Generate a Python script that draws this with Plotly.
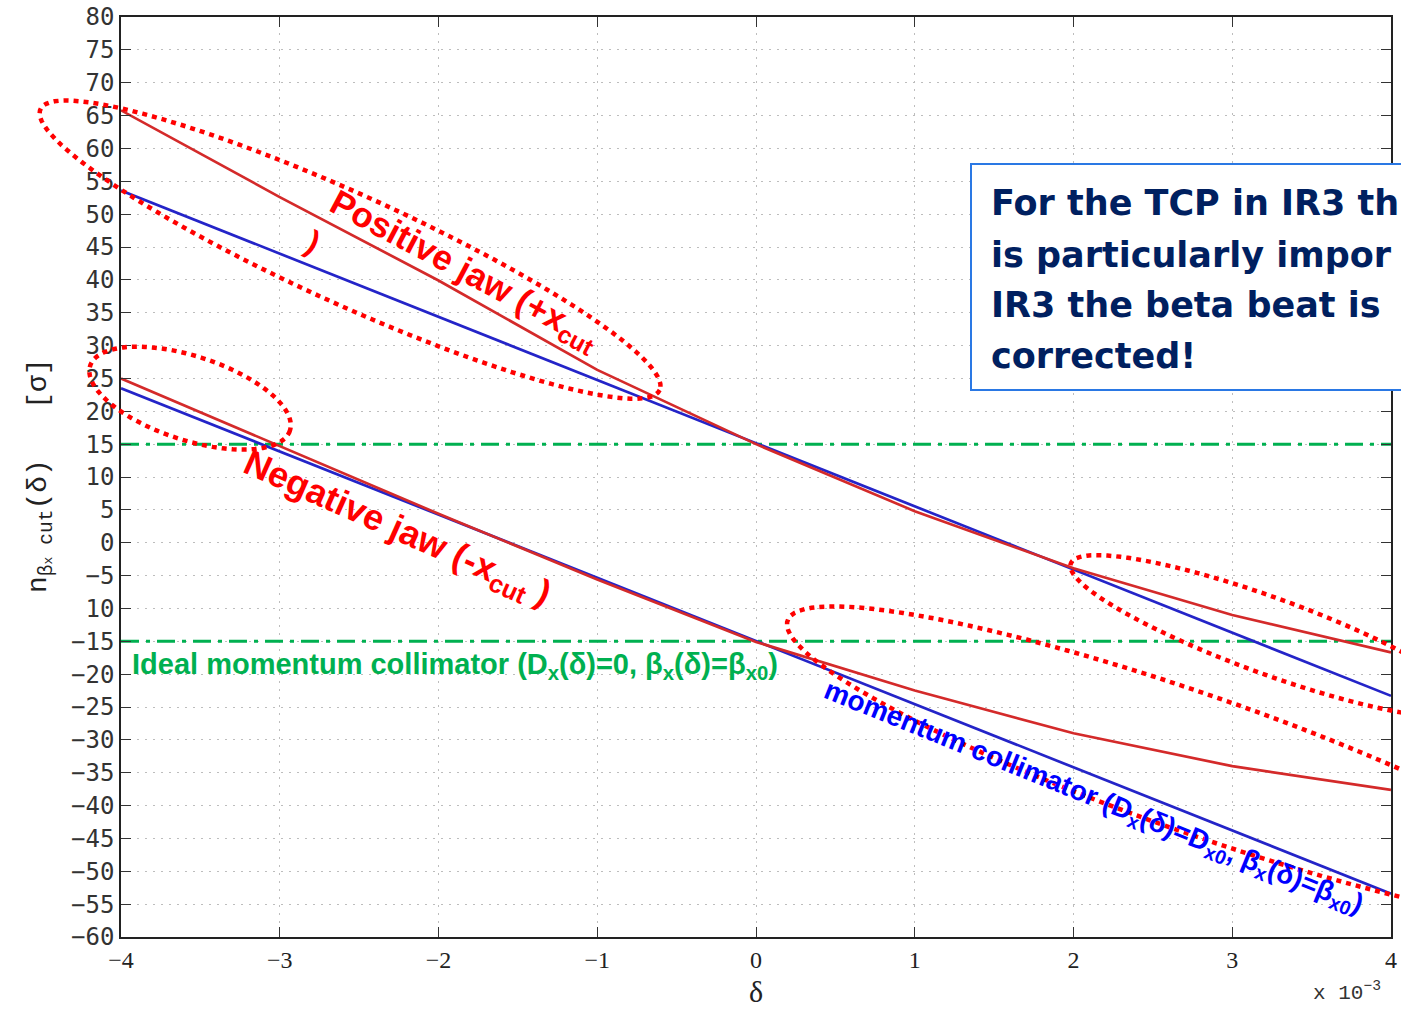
import numpy as np
import plotly.graph_objects as go

# ---------------- data ----------------
delta = [-4, -3, -2, -1, 0, 1, 2, 3, 4]                      # x 10^-3
pos_jaw_red = [65.8, 52.6, 39.9, 26.3, 15.0, 4.8, -3.9, -11.0, -16.7]
neg_jaw_red = [25.0, 14.7, 4.4, -5.6, -15.1, -22.5, -29.0, -34.0, -37.6]
pos_jaw_blue = [53.6, 44.0, 34.4, 24.8, 15.2, 5.6, -4.0, -13.7, -23.3]
neg_jaw_blue = [23.5, 13.9, 4.3, -5.3, -14.9, -24.5, -34.1, -43.8, -53.4]
ideal_levels = [15, -15]

x_ticks = [-4, -3, -2, -1, 0, 1, 2, 3, 4]
x_ticktext = ["\u22124", "\u22123", "\u22122", "\u22121", "0", "1", "2", "3", "4"]
y_ticks = list(range(80, -61, -5))
y_ticktext = ["80", "75", "70", "65", "60", "55", "50", "45", "40", "35", "30", "25",
              "20", "15", "10", "5", "0", "\u22125", "10", "\u221215", "\u221220",
              "\u221225", "\u221230", "\u221235", "\u221240", "\u221245", "\u221250",
              "\u221255", "\u221260"]

# highlight ellipses: centre (data), semi-axes (px), tilt (deg, screen)
ell_cx = [-2.557, -3.565, 3.238, 2.797]
ell_cy = [44.6, 22.0, -14.2, -33.8]
ell_a = [340, 105, 212, 437]
ell_b = [55, 42, 38, 69]
ell_ang = [24.4, 18.0, 20.0, 19.3]

# ---------------- layout geometry ----------------
W, H = 1401, 1009
ML, MR, MT, MB = 121, 10, 17, 72
PW, PH = W - ML - MR, H - MT - MB
XR = [-4, 4]
YR = [-60, 80]

RED = "#d42a2a"
BLUE = "#2424c8"
GREEN = "#00b050"

fig = go.Figure()

for yv in ideal_levels:
    fig.add_trace(go.Scatter(x=[XR[0], XR[1]], y=[yv, yv], mode="lines",
                             line=dict(color=GREEN, width=3, dash="18px,7px,4px,7px"),
                             showlegend=False, hoverinfo="skip"))

fig.add_trace(go.Scatter(x=delta, y=pos_jaw_blue, mode="lines",
                         line=dict(color=BLUE, width=2.7), showlegend=False))
fig.add_trace(go.Scatter(x=delta, y=neg_jaw_blue, mode="lines",
                         line=dict(color=BLUE, width=2.7), showlegend=False))
fig.add_trace(go.Scatter(x=delta, y=pos_jaw_red, mode="lines",
                         line=dict(color=RED, width=2.7), showlegend=False))
fig.add_trace(go.Scatter(x=delta, y=neg_jaw_red, mode="lines",
                         line=dict(color=RED, width=2.7), showlegend=False))


def to_px(x, y):
    px = (x - XR[0]) / (XR[1] - XR[0]) * PW
    py = (YR[1] - y) / (YR[1] - YR[0]) * PH
    return px, py


def ellipse_path(cx, cy, a, b, ang):
    cpx, cpy = to_px(cx, cy)
    th = np.radians(ang)
    t = np.linspace(0, 2 * np.pi, 120)
    px = cpx + a * np.cos(t) * np.cos(th) - b * np.sin(t) * np.sin(th)
    py = cpy + a * np.cos(t) * np.sin(th) + b * np.sin(t) * np.cos(th)
    fx = px / PW
    fy = 1 - py / PH
    pts = " L ".join(f"{u:.5f},{v:.5f}" for u, v in zip(fx, fy))
    return "M " + pts + " Z"


shapes = []
for cx, cy, a, b, ang in zip(ell_cx, ell_cy, ell_a, ell_b, ell_ang):
    shapes.append(dict(type="path", xref="paper", yref="paper",
                       path=ellipse_path(cx, cy, a, b, ang),
                       line=dict(color="#ff0000", width=4.5, dash="5px,5px")))

# info box (extends beyond the right edge)
shapes.append(dict(type="rect", xref="paper", yref="paper",
                   x0=(971 - ML) / PW, x1=(1430 - ML) / PW,
                   y0=1 - (390 - MT) / PH, y1=1 - (164 - MT) / PH,
                   line=dict(color="#2a78e4", width=2), fillcolor="white"))

annotations = [
    dict(x=-1.84, y=41.4, xref="x", yref="y", xanchor="center", yanchor="middle",
         text="<b>Positive jaw (+x<sub>cut</sub></b>",
         textangle=28, showarrow=False, font=dict(family="Liberation Sans", size=35, color="#ff0000")),
    dict(x=-2.79, y=45.8, xref="x", yref="y", xanchor="center", yanchor="middle", text="<b>)</b>",
         textangle=27, showarrow=False, font=dict(family="Liberation Sans", size=32, color="#ff0000")),
    dict(x=-2.26, y=2.0, xref="x", yref="y", xanchor="center", yanchor="middle",
         text="<b>Negative jaw (-x<sub>cut</sub> )</b>",
         textangle=24, showarrow=False, font=dict(family="Liberation Sans", size=36, color="#ff0000")),
    dict(x=-3.943, y=-18.7, xref="x", yref="y", xanchor="left", yanchor="middle",
         text="<b>Ideal momentum collimator (D<sub>x</sub>(δ)=0, β<sub>x</sub>(δ)=β<sub>x0</sub>)</b>",
         showarrow=False, font=dict(family="Liberation Sans", size=29, color=GREEN)),
    dict(x=2.125, y=-38.9, xref="x", yref="y", xanchor="center", yanchor="middle",
         text="<b>momentum collimator (D<sub>x</sub>(δ)=D<sub>x0</sub>, β<sub>x</sub>(δ)=β<sub>x0</sub>)</b>",
         textangle=22, showarrow=False, font=dict(family="Liberation Sans", size=28, color="#0000ff")),
    dict(x=0.5, y=1 - (991 - MT) / PH, xref="paper", yref="paper", xanchor="center", yanchor="middle",
         text="δ", showarrow=False, font=dict(family="Liberation Serif", size=30, color="#222")),
    dict(x=(1347 - ML) / PW, y=1 - (991 - MT) / PH, xref="paper", yref="paper",
         xanchor="center", yanchor="middle",
         text="x 10<sup>\u22123</sup>", showarrow=False,
         font=dict(family="Liberation Mono", size=21, color="#333")),
    dict(x=(40 - ML) / PW, y=1 - (475 - MT) / PH, xref="paper", yref="paper",
         xanchor="center", yanchor="middle",
         text="n<sub>β<span style='font-size:13px'>x</span> cut</sub>(δ)   [σ]",
         textangle=-90, showarrow=False,
         font=dict(family="Liberation Mono", size=28, color="#222")),
]

box_lines = ["For the TCP in IR3 th", "is particularly impor",
             "IR3 the beta beat is", "corrected!"]
box_line_y = [203, 255, 305, 356]
for txt, yy in zip(box_lines, box_line_y):
    annotations.append(dict(x=(989 - ML) / PW, y=1 - (yy - MT) / PH, xref="paper", yref="paper",
                            xanchor="left", yanchor="middle", text=f"<b>{txt}</b>",
                            showarrow=False,
                            font=dict(family="DejaVu Sans", size=35, color="#002060")))

fig.update_layout(
    width=W, height=H,
    margin=dict(l=ML, r=MR, t=MT, b=MB, autoexpand=False),
    paper_bgcolor="white", plot_bgcolor="white",
    shapes=shapes, annotations=annotations,
    showlegend=False,
    xaxis=dict(range=XR, tickvals=x_ticks, ticktext=x_ticktext, automargin=False,
               showgrid=True, gridcolor="#bdbdbd", griddash="2px,6px", gridwidth=1.2,
               zeroline=False, showline=True, linecolor="#222", linewidth=1.5,
               mirror="ticks", ticks="inside", ticklen=10, tickcolor="#333",
               tickfont=dict(family="Liberation Serif", size=24, color="#222")),
    yaxis=dict(range=YR, tickvals=y_ticks, ticktext=y_ticktext, automargin=False,
               showgrid=True, gridcolor="#bdbdbd", griddash="2px,6px", gridwidth=1.2,
               zeroline=False, showline=True, linecolor="#222", linewidth=1.5,
               mirror="ticks", ticks="inside", ticklen=10, tickcolor="#333",
               tickfont=dict(family="DejaVu Sans Mono", size=24, color="#333")),
)

fig.write_html("out.html")
